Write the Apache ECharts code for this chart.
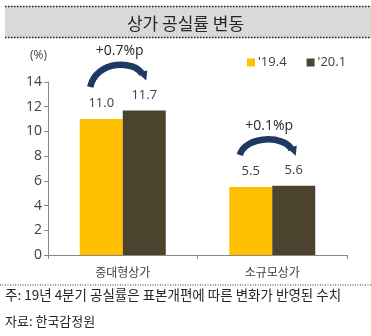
<!DOCTYPE html>
<html><head><meta charset="utf-8">
<script src="https://cdn.jsdelivr.net/npm/echarts@6/dist/echarts.min.js"></script>
<style>html,body{margin:0;padding:0;background:#fff}#c{width:371px;height:336px}</style>
</head><body><div id="c"></div>
<script>
const categories = ['중대형상가', '소규모상가'];
const seriesNames = ["'19.4", "'20.1"];
const values194 = [11.0, 5.5];
const values201 = [11.7, 5.6];
const changeLabels = ['+0.7%p', '+0.1%p'];
const yTicks = [0, 2, 4, 6, 8, 10, 12, 14];

const KR = '"Noto Sans CJK KR", sans-serif';
const NUM = '"Open Sans", "Noto Sans", sans-serif';
const chart = echarts.init(document.getElementById('c'));
const BW = 43;
const option = {
  animation: false,
  title: {text: '상가 공실률 변동', left: 'center', top: 10,
    textStyle: {fontFamily: KR, fontSize: 17, fontWeight: 'normal', color: '#262626'}},
  legend: {left: 242, top: 51, itemWidth: 8, itemHeight: 8, itemGap: 20, icon: 'rect',
    textStyle: {fontFamily: NUM, fontSize: 13, color: '#404040', padding: [0,0,0,-2]},
    data: seriesNames},
  grid: {left: 48, right: 24, top: 82, bottom: 81},
  xAxis: {type: 'category', data: categories,
    axisLine: {lineStyle: {color: '#898989'}},
    axisTick: {show: true, length: 4, lineStyle: {color: '#898989'}},
    axisLabel: {fontFamily: KR, fontSize: 12, color: '#404040', margin: 11}},
  yAxis: {type: 'value', min: 0, max: 14, interval: 2,
    name: '(%)', nameLocation: 'end', nameGap: 20,
    nameTextStyle: {fontFamily: NUM, fontSize: 12, color: '#404040', align: 'right', padding: [0, 1, 0, 0]},
    axisLine: {show: true, lineStyle: {color: '#898989'}},
    axisTick: {show: true, length: 4, lineStyle: {color: '#898989'}},
    splitLine: {show: false},
    axisLabel: {fontFamily: NUM, fontSize: 14, color: '#404040', margin: 6,
      formatter: v => yTicks.includes(v) ? String(v) : ''}},
  series: [
    {name: seriesNames[0], type: 'bar', data: values194, barWidth: BW, barGap: '0%',
      itemStyle: {color: '#FFC000'},
      label: {show: true, position: 'top', distance: 9, formatter: p => p.value.toFixed(1),
        fontFamily: NUM, fontSize: 13, color: '#404040'}},
    {name: seriesNames[1], type: 'bar', data: values201, barWidth: BW, barGap: '0%',
      itemStyle: {color: '#4B432E'},
      label: {show: true, position: 'top', distance: 9, formatter: p => p.value.toFixed(1),
        fontFamily: NUM, fontSize: 13, color: '#404040'}}
  ]
};
chart.setOption(option);

function dotted(y) {
  return {type: 'line', shape: {x1: 5, y1: y, x2: 371, y2: y},
    style: {stroke: '#222', lineWidth: 1.5, lineDash: [1.5, 1.5]}, z: 10};
}
const g = [
  {type: 'rect', shape: {x: 5, y: 6, width: 366, height: 32}, style: {fill: '#D9D9D9'}, z: -1},
  dotted(6.5), dotted(37.5),
  {type: 'line', shape: {x1: 0, y1: 285, x2: 371, y2: 285},
    style: {stroke: '#333', lineWidth: 1, lineDash: [1, 1.5]}},
  {type: 'text', left: 5, top: 288, style: {text: '주: 19년 4분기 공실률은 표본개편에 따른 변화가 반영된 수치',
    font: '13.5px "Noto Sans CJK KR"', fill: '#262626'}},
  {type: 'text', left: 5, top: 315, style: {text: '자료: 한국감정원',
    font: '13px "Noto Sans CJK KR"', fill: '#262626'}}
];
const NAVY = '#1C3A63';
categories.forEach((c, i) => {
  const pc = chart.convertToPixel({xAxisIndex: 0, yAxisIndex: 0}, [i, 0]);
  const cx = pc[0];
  const yA = chart.convertToPixel({yAxisIndex: 0}, values194[i]);
  const yB = chart.convertToPixel({yAxisIndex: 0}, values201[i]);
  const x1 = cx - BW / 2 - 11, y1 = yA - 32;
  const x2 = cx + BW / 2 + 1, y2 = yB - 33;
  const top = Math.min(y1, y2) - (i === 0 ? 12 : 13);
  const yc = (top - 0.125 * (y1 + y2)) / 0.75;
  g.push({type: 'bezierCurve', shape: {x1: x1, y1: y1, x2: x2 - 3, y2: y2 - 3, cpx1: x1 + 6, cpy1: yc, cpx2: x2 - 10, cpy2: yc},
    style: {stroke: NAVY, lineWidth: 6.5, fill: null, lineCap: 'butt'}});
  g.push({type: 'polygon', shape: {points: [[x2 - 8, y2 - 5], [x2 + 2, y2 - 7], [x2 + 1, y2 + 3]]},
    style: {fill: NAVY}});
  g.push({type: 'text', x: (x1 + x2) / 2 + 2, y: top - 14,
    style: {text: changeLabels[i], font: '14px "Open Sans"', fill: '#262626', align: 'center', verticalAlign: 'middle'}});
});
chart.setOption({graphic: g});
</script></body></html>
